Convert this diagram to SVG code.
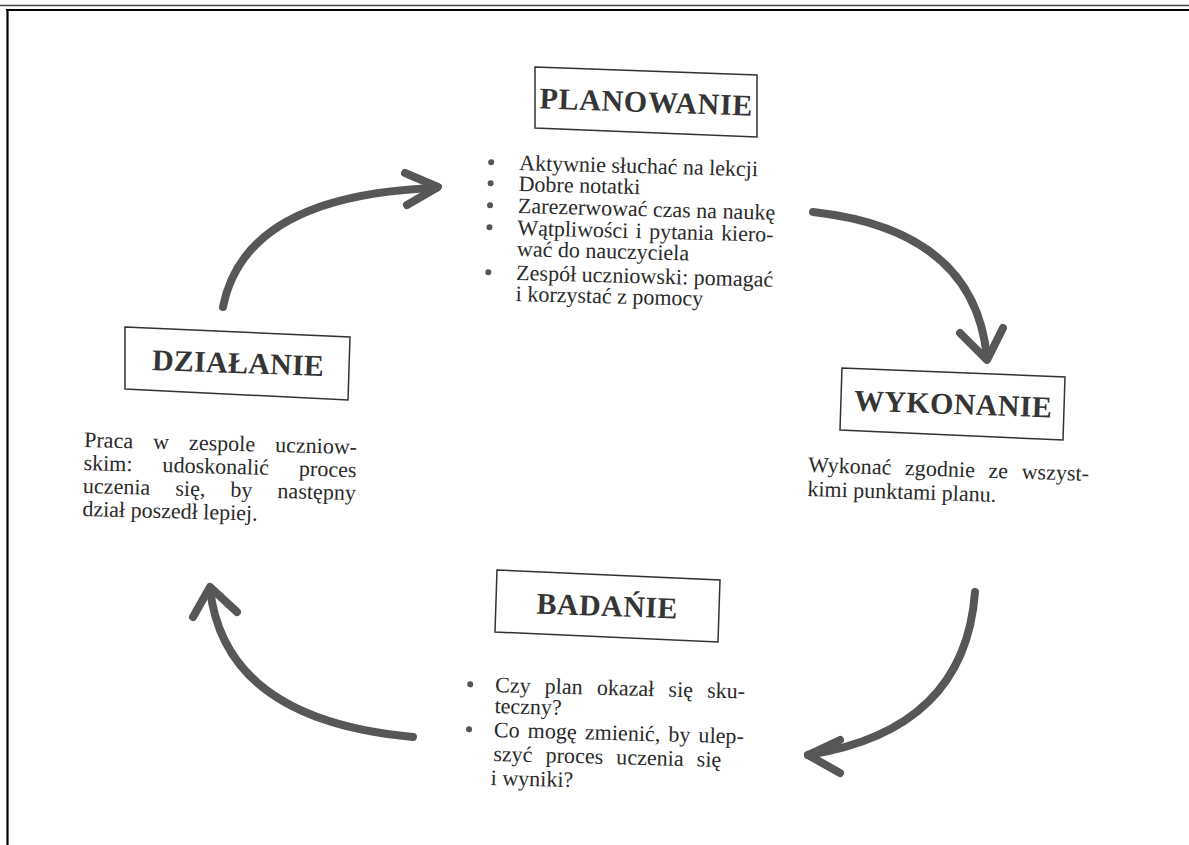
<svg xmlns="http://www.w3.org/2000/svg" width="1189" height="845" viewBox="0 0 1189 845">
<defs>
<style>
.title{font-family:"Liberation Serif","Times New Roman",serif;font-weight:bold;font-size:30px;fill:#353535}
.body{font-family:"Liberation Serif","Times New Roman",serif;font-size:22px;fill:#2a2a2a}
.box{fill:#fff;stroke:#333;stroke-width:1.5}
.arc{fill:none;stroke:#575757;stroke-width:8;stroke-linecap:round;stroke-linejoin:round}
.bul{fill:#555}
</style>
</defs>
<rect x="0" y="0" width="1189" height="845" fill="#fff"/>
<g id="frame">
<line x1="0" y1="5.5" x2="1189" y2="5.5" stroke="#444" stroke-width="1.6"/>
<line x1="6" y1="10" x2="1189" y2="10" stroke="#000" stroke-width="2.2"/>
<line x1="7.5" y1="9" x2="7.5" y2="845" stroke="#000" stroke-width="2.2"/>
</g>
<g id="connectors">
<path class="arc" d="M223,307 Q245,195 436,188"/>
<path class="arc" d="M405,173 L438,187 L407,205"/>
<path class="arc" d="M813,212 Q975,230 987,358"/>
<path class="arc" d="M960,333 L987,360 L1003,328"/>
<path class="arc" d="M975,592 Q965,730 808,755"/>
<path class="arc" d="M840,740 L808,755 L840,773"/>
<path class="arc" d="M413,737 Q225,720 210,589"/>
<path class="arc" d="M193,617 L210,587 L237,612"/>
</g>
<g id="planowanie">
<polygon class="box" points="535,67 757,75 757,137 535,128"/>
<text class="title" x="646" y="112" text-anchor="middle" textLength="213" transform="rotate(2 646 102)">PLANOWANIE</text>
<g transform="rotate(1.5 519 170)">
<circle class="bul" cx="491" cy="163" r="3"/>
<circle class="bul" cx="491" cy="184" r="3"/>
<circle class="bul" cx="491" cy="206" r="3"/>
<circle class="bul" cx="491" cy="228" r="3"/>
<circle class="bul" cx="491" cy="273" r="3"/>
<text class="body" x="519" y="170">Aktywnie słuchać na lekcji</text>
<text class="body" x="519" y="191">Dobre notatki</text>
<text class="body" x="519" y="213">Zarezerwować czas na naukę</text>
<text class="body" x="519" y="235" textLength="256" lengthAdjust="spacing" style="word-spacing:2px">Wątpliwości i pytania kiero-</text>
<text class="body" x="519" y="256">wać do nauczyciela</text>
<text class="body" x="519" y="280" textLength="257" lengthAdjust="spacing">Zespół uczniowski: pomagać</text>
<text class="body" x="519" y="301">i korzystać z pomocy</text>
</g>
</g>
<g id="dzialanie">
<polygon class="box" points="125,327 350,337 348,400 125,389"/>
<text class="title" x="238" y="373" text-anchor="middle" textLength="172" transform="rotate(2 238 363)">DZIAŁANIE</text>
<g transform="rotate(1.5 84 447)">
<text class="body" x="84" y="447" textLength="273" lengthAdjust="spacing" style="word-spacing:14.5px">Praca w zespole uczniow-</text>
<text class="body" x="84" y="470" textLength="273" lengthAdjust="spacing" style="word-spacing:24.5px">skim: udoskonalić proces</text>
<text class="body" x="84" y="493" textLength="273" lengthAdjust="spacing" style="word-spacing:19.5px">uczenia się, by następny</text>
<text class="body" x="84" y="516">dział poszedł lepiej.</text>
</g>
</g>
<g id="wykonanie">
<polygon class="box" points="842,368 1065,377 1063,440 840,430"/>
<text class="title" x="953" y="414" text-anchor="middle" textLength="198" transform="rotate(2 953 404)">WYKONANIE</text>
<g transform="rotate(1.8 808 472)">
<text class="body" x="808" y="472" textLength="281" lengthAdjust="spacing" style="word-spacing:8px">Wykonać zgodnie ze wszyst-</text>
<text class="body" x="808" y="496">kimi punktami planu.</text>
</g>
</g>
<g id="badanie">
<polygon class="box" points="497,570 720,580 718,642 495,632"/>
<text class="title" x="607" y="616" text-anchor="middle" textLength="141" transform="rotate(2 607 606)">BADAŃIE</text>
<g transform="rotate(1.5 495 692)">
<circle class="bul" cx="470" cy="685" r="3"/>
<circle class="bul" cx="470" cy="730" r="3"/>
<text class="body" x="495" y="692" textLength="250" lengthAdjust="spacing" style="word-spacing:8.5px">Czy plan okazał się sku-</text>
<text class="body" x="495" y="713">teczny?</text>
<text class="body" x="495" y="737" textLength="250" lengthAdjust="spacing" style="word-spacing:2.5px">Co mogę zmienić, by ulep-</text>
<text class="body" x="495" y="761" textLength="228" lengthAdjust="spacing" style="word-spacing:7.5px">szyć proces uczenia się</text>
<text class="body" x="493" y="785">i wyniki?</text>
</g>
</g>
</svg>
